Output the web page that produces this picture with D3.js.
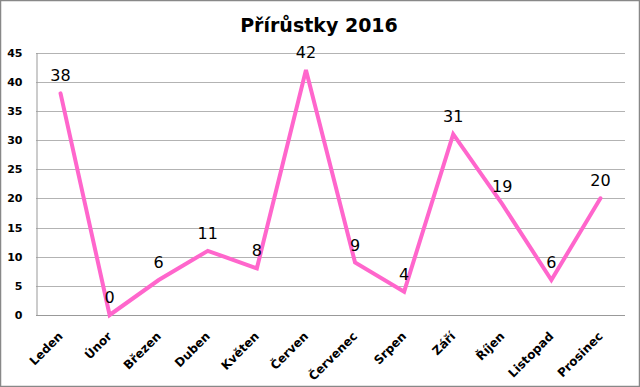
<!DOCTYPE html>
<html>
<head>
<meta charset="utf-8">
<script src="https://cdn.jsdelivr.net/npm/d3@7"></script>
<style>
  body { margin: 0; background: #fff; }
  svg { display: block; font-family: "DejaVu Sans", Verdana, sans-serif; }
</style>
</head>
<body>
<div id="chart"></div>
<script>
const months = ['Leden', 'Únor', 'Březen', 'Duben', 'Květen', 'Červen',
  'Červenec', 'Srpen', 'Září', 'Říjen', 'Listopad', 'Prosinec']
const values = [38, 0, 6, 11, 8, 42, 9, 4, 31, 19, 6, 20]
const yTicks = [0, 5, 10, 15, 20, 25, 30, 35, 40, 45]
const title = 'Přírůstky 2016'

const W = 640
const H = 387
const plot = { left: 36, right: 625, top: 52.5, bottom: 315 }

const svg = d3.select('#chart')
  .append('svg')
  .attr('width', W)
  .attr('height', H)

svg.append('rect')
  .attr('x', 0.5).attr('y', 0.5)
  .attr('width', W - 1).attr('height', H - 1)
  .attr('fill', '#fff')
  .attr('stroke', '#888')
  .attr('stroke-width', 1.5)

svg.append('text')
  .attr('x', 319)
  .attr('y', 32)
  .attr('text-anchor', 'middle')
  .attr('font-size', 19)
  .attr('font-weight', 'bold')
  .attr('fill', '#000')
  .text(title)

const x = d3.scalePoint()
  .domain(months)
  .range([plot.left, plot.right])
  .padding(0.5)

const y = d3.scaleLinear()
  .domain([0, 45])
  .range([plot.bottom, plot.top])

// gridlines
svg.append('g')
  .selectAll('line')
  .data(yTicks)
  .join('line')
  .attr('x1', plot.left)
  .attr('x2', plot.right)
  .attr('y1', d => Math.round(y(d)) + 0.5)
  .attr('y2', d => Math.round(y(d)) + 0.5)
  .attr('stroke', d => d === 0 ? '#999' : '#b3b3b3')
  .attr('stroke-width', 1)

// y axis
const yAxis = svg.append('g')
  .attr('transform', `translate(${plot.left + 0.5},0)`)
  .call(d3.axisLeft(y).tickValues(yTicks).tickSize(0).tickPadding(14))
yAxis.select('.domain').attr('stroke', '#999')
yAxis.selectAll('text')
  .attr('font-size', 11)
  .attr('font-weight', 'bold')
  .attr('fill', '#000')
  .attr('font-family', '"DejaVu Sans", Verdana, sans-serif')

// x labels, rotated
svg.append('g')
  .selectAll('text')
  .data(months)
  .join('text')
  .attr('transform', d => `translate(${x(d) + 3},${plot.bottom + 22}) rotate(-45)`)
  .attr('text-anchor', 'end')
  .attr('font-size', 12)
  .attr('font-weight', 'bold')
  .attr('fill', '#000')
  .text(d => d)

// line
const line = d3.line()
  .x((d, i) => x(months[i]))
  .y(d => y(d))

svg.append('path')
  .datum(values)
  .attr('d', line)
  .attr('fill', 'none')
  .attr('stroke', '#ff66cc')
  .attr('stroke-width', 4)
  .attr('stroke-linejoin', 'miter')
  .attr('stroke-linecap', 'round')

// data labels
svg.append('g')
  .selectAll('text')
  .data(values)
  .join('text')
  .attr('x', (d, i) => x(months[i]))
  .attr('y', d => y(d) - 12)
  .attr('text-anchor', 'middle')
  .attr('font-size', 16)
  .attr('fill', '#000')
  .text(d => d)
</script>
</body>
</html>
